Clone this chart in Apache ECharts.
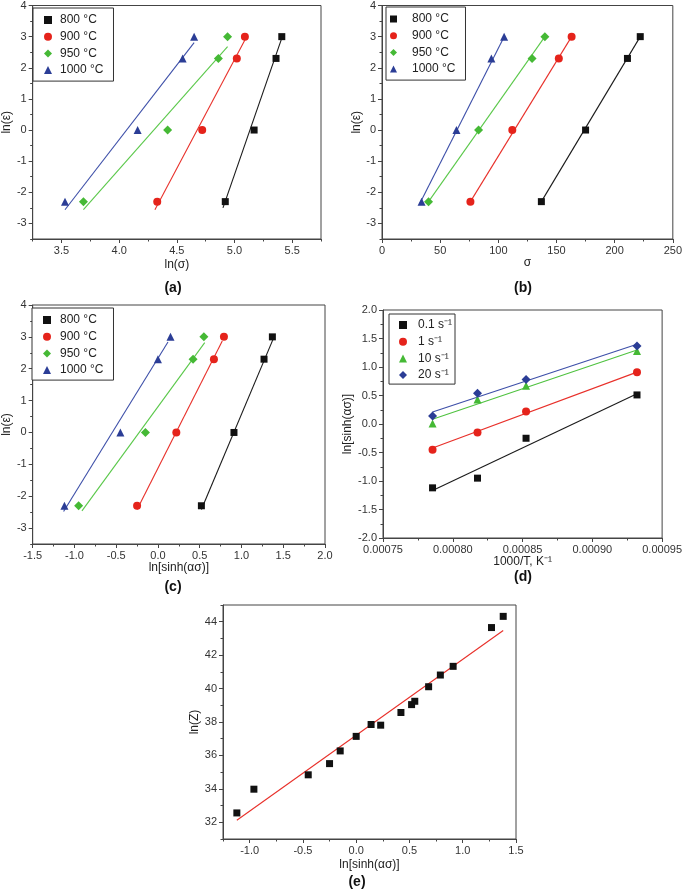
<!DOCTYPE html>
<html>
<head>
<meta charset="utf-8">
<script src="https://cdn.jsdelivr.net/npm/echarts@6/dist/echarts.min.js"></script>
<style>
html, body { margin: 0; padding: 0; background: #fff; }
#chart { width: 685px; height: 893px; }
</style>
</head>
<body>
<div id="chart"></div>
<script>
// ln(strain rate) levels used in (a), (b), (c)
var lnRate = [-2.3, 0, 2.3, 3.0];
var tempNames = ['800 °C', '900 °C', '950 °C', '1000 °C'];
var rateNames = ['0.1 s⁻¹', '1 s⁻¹', '10 s⁻¹', '20 s⁻¹'];

// (a) ln(sigma) per temperature
var aX = [
  [4.92, 5.17, 5.36, 5.41],
  [4.33, 4.72, 5.02, 5.09],
  [3.69, 4.42, 4.86, 4.94],
  [3.53, 4.16, 4.55, 4.65]
];
var aFit = [
  [[4.90, -2.50], [5.41, 2.95]],
  [[4.31, -2.56], [5.09, 2.89]],
  [[3.69, -2.56], [4.94, 2.68]],
  [[3.53, -2.56], [4.65, 2.81]]
];
// (b) sigma per temperature
var bX = [
  [137, 175, 211, 222],
  [76, 112, 152, 163],
  [40, 83, 129, 140],
  [34, 64, 94, 105]
];
var bFit = [
  [[137, -2.3], [222, 3.0]],
  [[76, -2.3], [163, 3.0]],
  [[40, -2.3], [140, 3.0]],
  [[32.5, -2.36], [105, 3.0]]
];
// (c) ln[sinh(a*sigma)] per temperature
var cX = [
  [0.52, 0.91, 1.27, 1.37],
  [-0.25, 0.22, 0.67, 0.79],
  [-0.95, -0.15, 0.42, 0.55],
  [-1.12, -0.45, 0.0, 0.15]
];
var cFit = [
  [[0.52, -2.42], [1.39, 3.0]],
  [[-0.25, -2.42], [0.77, 2.87]],
  [[-0.91, -2.46], [0.56, 2.82]],
  [[-1.13, -2.48], [0.12, 2.84]]
];
// (d) 1000/T vs ln[sinh(a*sigma)] per strain rate
var dX = [0.0007855, 0.0008177, 0.0008525, 0.000932];
var dY = [
  [-1.12, -0.95, -0.25, 0.51],
  [-0.45, -0.15, 0.22, 0.91],
  [0.01, 0.43, 0.67, 1.28],
  [0.14, 0.54, 0.78, 1.37]
];
var dFit = [
  [[0.0007855, -1.165], [0.000932, 0.53]],
  [[0.0007855, -0.42], [0.000932, 0.91]],
  [[0.0007855, 0.085], [0.000932, 1.30]],
  [[0.0007855, 0.21], [0.000932, 1.40]]
];
// (e) ln(Z)
var eX = [-1.12, -0.96, -0.45, -0.25, -0.15, 0.0, 0.14, 0.23, 0.42, 0.52, 0.55, 0.68, 0.79, 0.91, 1.27, 1.38];
var eY = [32.56, 33.98, 34.84, 35.51, 36.27, 37.14, 37.85, 37.81, 38.57, 39.04, 39.24, 40.11, 40.81, 41.33, 43.65, 44.32];
var eFit = [[-1.12, 32.12], [1.38, 43.47]];

// tick labels
var rateTicks = [-3, -2, -1, 0, 1, 2, 3, 4];
var rateMinor = [-3.5, -2.5, -1.5, -0.5, 0.5, 1.5, 2.5, 3.5];
var aTicks = [3.5, 4.0, 4.5, 5.0, 5.5];
var aMinor = [3.25, 3.75, 4.25, 4.75, 5.25, 5.75];
var bTicks = [0, 50, 100, 150, 200, 250];
var bMinor = [25, 75, 125, 175, 225];
var cTicks = [-1.5, -1.0, -0.5, 0.0, 0.5, 1.0, 1.5, 2.0];
var cMinor = [-1.25, -0.75, -0.25, 0.25, 0.75, 1.25, 1.75];
var dxTicks = [0.00075, 0.0008, 0.00085, 0.0009, 0.00095];
var dxMinor = [0.000775, 0.000825, 0.000875, 0.000925];
var dyTicks = [-2, -1.5, -1, -0.5, 0, 0.5, 1, 1.5, 2];
var dyMinor = [-1.75, -1.25, -0.75, -0.25, 0.25, 0.75, 1.25, 1.75];
var exTicks = [-1.0, -0.5, 0.0, 0.5, 1.0, 1.5];
var exMinor = [-1.25, -0.75, -0.25, 0.25, 0.75, 1.25];
var eyTicks = [32, 34, 36, 38, 40, 42, 44];
var eyMinor = [31, 33, 35, 37, 39, 41, 43, 45];

var symbols = ['rect', 'circle', 'diamond', 'triangle'];
var symbolsD = ['rect', 'circle', 'triangle', 'diamond'];
var sizes = { rect: 7, circle: 8, diamond: 9, triangle: 8 };
var dotColors = ['#111111', '#e5231b', '#45b935', '#2b3d96'];
var lineColors = ['#1a1a1a', '#e8302a', '#5ac84a', '#3d4fa8'];
var lineColorsD = ['#1a1a1a', '#e8302a', '#4fc23f', '#3d4fa8'];

var font = 'Liberation Sans, Arial, sans-serif';
var axisColor = '#444';

function fix1(v) { return v.toFixed(1); }
function fix0(v) { return Math.round(v).toString(); }
function fix5(v) { return v.toFixed(5); }

function mkAxis(grid, pos, min, max, ticks, fmt, name, gap) {
  return {
    type: 'value', gridIndex: grid, position: pos, min: min, max: max,
    name: name, nameLocation: 'middle', nameGap: gap,
    nameTextStyle: { fontSize: 12, color: '#222', fontFamily: font },
    axisLine: { show: true, onZero: false, lineStyle: { color: axisColor, width: 1 } },
    axisTick: { show: true, length: 4, customValues: ticks, lineStyle: { color: axisColor } },
    axisLabel: { customValues: ticks, formatter: fmt, fontSize: 11, color: '#333', margin: 6, fontFamily: font },
    splitLine: { show: false }
  };
}
function mkMinor(grid, pos, min, max, ticks) {
  return {
    type: 'value', gridIndex: grid, position: pos, min: min, max: max,
    axisLine: { show: false, onZero: false },
    axisTick: { show: true, length: 2.5, customValues: ticks, lineStyle: { color: axisColor } },
    axisLabel: { show: false },
    splitLine: { show: false }
  };
}

var grids = [
  { left: 29, top: 5, width: 292, height: 234 },
  { left: 382, top: 5, width: 291, height: 234 },
  { left: 28, top: 305, width: 297, height: 239 },
  { left: 383, top: 310, width: 284, height: 228 },
  { left: 223, top: 605, width: 293, height: 234 }
];
grids.forEach(function (g) {
  g.show = true;
  g.borderColor = axisColor;
  g.borderWidth = 1;
  g.backgroundColor = 'transparent';
});

var epsName = 'ln(ε̇)';
var sinhName = 'ln[sinh(ασ)]';

var xAxes = [
  mkAxis(0, 'bottom', 3.25, 5.75, aTicks, fix1, 'ln(σ)', 20), mkMinor(0, 'bottom', 3.25, 5.75, aMinor),
  mkAxis(1, 'bottom', 0, 250, bTicks, fix0, 'σ', 10), mkMinor(1, 'bottom', 0, 250, bMinor),
  mkAxis(2, 'bottom', -1.5, 2.0, cTicks, fix1, sinhName, 14), mkMinor(2, 'bottom', -1.5, 2.0, cMinor),
  mkAxis(3, 'bottom', 0.00075, 0.00095, dxTicks, fix5, '1000/T, K⁻¹', 11), mkMinor(3, 'bottom', 0.00075, 0.00095, dxMinor),
  mkAxis(4, 'bottom', -1.25, 1.5, exTicks, fix1, sinhName, 20), mkMinor(4, 'bottom', -1.25, 1.5, exMinor)
];
var yAxes = [
  mkAxis(0, 'left', -3.5, 4, rateTicks, fix0, epsName, 15), mkMinor(0, 'left', -3.5, 4, rateMinor),
  mkAxis(1, 'left', -3.5, 4, rateTicks, fix0, epsName, 17), mkMinor(1, 'left', -3.5, 4, rateMinor),
  mkAxis(2, 'left', -3.5, 4, rateTicks, fix0, epsName, 14), mkMinor(2, 'left', -3.5, 4, rateMinor),
  mkAxis(3, 'left', -2, 2, dyTicks, fix1, sinhName, 21), mkMinor(3, 'left', -2, 2, dyMinor),
  mkAxis(4, 'left', 31, 45, eyTicks, fix0, 'ln(Z)', 22), mkMinor(4, 'left', 31, 45, eyMinor)
];

var series = [];
function addFit(g, pts, color) {
  series.push({
    type: 'line', xAxisIndex: g * 2, yAxisIndex: g * 2, data: pts,
    symbol: 'none', silent: true, z: 2,
    lineStyle: { color: color, width: 1.1 }
  });
}
function addDots(g, name, pts, sym, color) {
  series.push({
    type: 'scatter', name: name, xAxisIndex: g * 2, yAxisIndex: g * 2, data: pts,
    symbol: sym, symbolSize: sizes[sym], z: 3,
    itemStyle: { color: color, opacity: 1 }
  });
}

// (a), (b), (c): x values vs ln(strain rate)
[[aX, aFit], [bX, bFit], [cX, cFit]].forEach(function (p, g) {
  for (var i = 0; i < 4; i++) {
    addFit(g, p[1][i], lineColors[i]);
    addDots(g, tempNames[i], p[0][i].map(function (x, j) { return [x, lnRate[j]]; }), symbols[i], dotColors[i]);
  }
});
// (d)
for (var i = 0; i < 4; i++) {
  addFit(3, dFit[i], lineColorsD[i]);
  addDots(3, rateNames[i], dY[i].map(function (y, j) { return [dX[j], y]; }), symbolsD[i], dotColors[i]);
}
// (e)
addFit(4, eFit, '#e8302a');
addDots(4, 'lnZ', eX.map(function (x, j) { return [x, eY[j]]; }), 'rect', '#111111');

function mkLegend(names, left, top, pad, icon, textPad) {
  return {
    data: names, orient: 'vertical', left: left, top: top,
    padding: pad, itemGap: 2.7, itemWidth: icon, itemHeight: icon,
    borderColor: '#333', borderWidth: 1, backgroundColor: '#fff',
    selectedMode: false,
    textStyle: { fontSize: 12, color: '#222', fontFamily: font, lineHeight: 14, padding: [0, 0, 0, textPad] }
  };
}

var captions = [
  { text: '(a)', x: 173, y: 288 },
  { text: '(b)', x: 523, y: 288 },
  { text: '(c)', x: 173, y: 587 },
  { text: '(d)', x: 523, y: 577 },
  { text: '(e)', x: 357, y: 882 }
];

var chart = echarts.init(document.getElementById('chart'));
chart.setOption({
  animation: false,
  backgroundColor: '#fff',
  grid: grids,
  xAxis: xAxes,
  yAxis: yAxes,
  legend: [
    mkLegend(tempNames, 33, 8, [5, 10, 4, 11], 8, 3),
    mkLegend(tempNames, 386, 7, [5, 10, 4, 4], 7, 10),
    mkLegend(tempNames, 32, 308, [5, 10, 3, 11], 8, 4),
    mkLegend(rateNames, 389, 314, [4, 3, 2, 10], 8, 6)
  ],
  graphic: captions.map(function (c) {
    return {
      type: 'text', x: c.x, y: c.y,
      style: { text: c.text, fontSize: 14, fontWeight: 'bold', fill: '#111', fontFamily: font, align: 'center', verticalAlign: 'middle' }
    };
  }),
  series: series
});
</script>
</body>
</html>
